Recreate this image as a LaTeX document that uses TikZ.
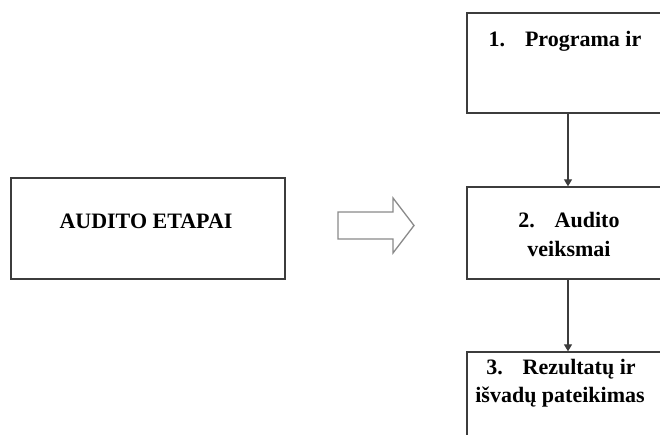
\documentclass[tikz,border=0pt]{standalone}
\usepackage{fontspec}
\setmainfont{Liberation Serif}
\usetikzlibrary{arrows.meta,shadows}
\definecolor{boxline}{HTML}{3C3C3C}
\definecolor{arrline}{HTML}{8A8A8A}
\tikzset{
  box/.style={draw=boxline, line width=1.3pt, fill=white, rectangle, inner sep=0pt,
    drop shadow={shadow xshift=1.2pt, shadow yshift=-1.2pt, opacity=0.25}},
  txt/.style={anchor=base, font=\fontsize{22}{29}\selectfont\bfseries, inner sep=0pt, text=black},
  conn/.style={draw=boxline, line width=1.1pt, -{Triangle[width=8pt,length=7pt]}},
  blockarrow/.style={draw=arrline, line width=1.3pt, fill=white, line join=miter}
}
\begin{document}
\begin{tikzpicture}[x=1pt,y=-1pt]
\useasboundingbox (0,0) rectangle (660,435);
\clip (0,0) rectangle (660,435);
% left box
\node[box, minimum width=274pt, minimum height=101pt] (left) at (148,228.5) {};
\node[txt] (lefttxt) at (146,229) {AUDITO ETAPAI};
% block arrow
\draw[blockarrow] (338,212) -- (393,212) -- (393,198) -- (414,225.5) -- (393,253) -- (393,239) -- (338,239) -- cycle;
% right boxes
\node[box, minimum width=202pt, minimum height=100pt] (b1) at (568,63) {};
\node[txt] (t1) at (565,47) {1.\hspace{0.9em}Programa ir};
\node[box, minimum width=202pt, minimum height=92pt] (b2) at (568,233) {};
\node[txt] (t2a) at (569,228) {2.\hspace{0.9em}Audito};
\node[txt] (t2b) at (569,257) {veiksmai};
\node[box, minimum width=202pt, minimum height=100pt] (b3) at (568,402) {};
\node[txt] (t3a) at (561,374) {3.\hspace{0.9em}Rezultatų ir};
\node[txt] (t3b) at (560,402) {išvadų pateikimas};
% connectors
\draw[conn] (b1.south) -- (b2.north);
\draw[conn] (b2.south) -- (b3.north);
\end{tikzpicture}
\end{document}
